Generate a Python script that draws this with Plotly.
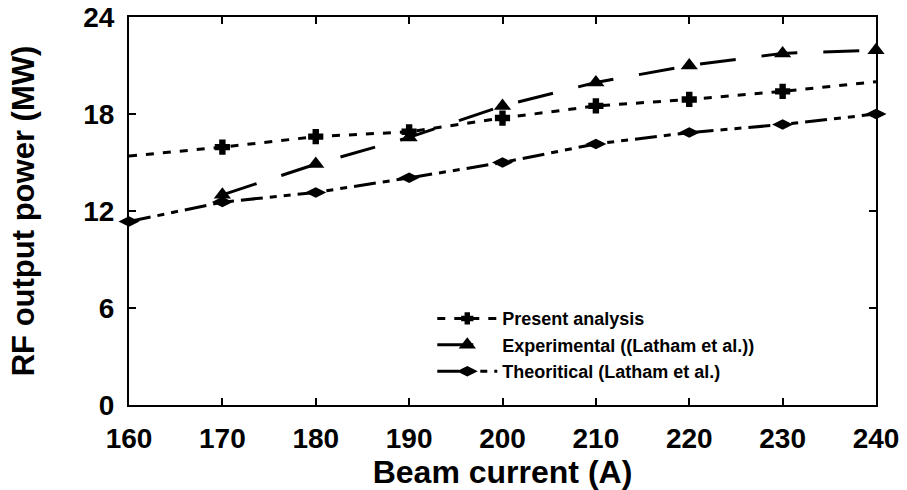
import plotly.graph_objects as go

beam_current = [160, 170, 180, 190, 200, 210, 220, 230, 240]
present_analysis = [15.4, 15.95, 16.6, 16.9, 17.75, 18.5, 18.9, 19.4, 20.0]
present_marker_size = [0, 11, 11, 11, 11, 11, 11, 11, 0]
experimental_x = [170, 180, 190, 200, 210, 220, 230, 240]
experimental = [13.0, 14.9, 16.55, 18.5, 19.95, 21.0, 21.75, 21.95]
theoretical = [11.35, 12.55, 13.15, 14.05, 15.0, 16.15, 16.85, 17.35, 18.0]

FONT = "Liberation Sans"

fig = go.Figure()
fig.add_trace(go.Scatter(
    x=beam_current, y=present_analysis, name="Present analysis",
    mode="lines+markers",
    line=dict(color="black", width=3, dash="8px,9px"),
    marker=dict(symbol="cross", size=present_marker_size, color="#000000",
                opacity=1, line=dict(color="#000000", width=2)),
    cliponaxis=False,
))
fig.add_trace(go.Scatter(
    x=experimental_x, y=experimental, name="Experimental ((Latham et al.))",
    mode="lines+markers",
    line=dict(color="black", width=3, dash="36px,26px"),
    marker=dict(symbol="triangle-up", size=15, color="black"),
    cliponaxis=False,
))
fig.add_trace(go.Scatter(
    x=beam_current, y=theoretical, name="Theoritical (Latham et al.)",
    mode="lines+markers",
    line=dict(color="black", width=3, dash="22px,7px,7px,7px,7px,7px"),
    marker=dict(symbol="diamond-wide", size=15, color="black"),
    cliponaxis=False,
))

axis_common = dict(
    showline=True, linecolor="black", linewidth=2, mirror="allticks",
    ticks="inside", ticklen=7, tickwidth=1.5, tickcolor="black",
    showgrid=False, zeroline=False, automargin=False,
    tickfont=dict(family=FONT, size=28, color="black", weight="bold"),
)

fig.update_layout(
    width=907, height=490,
    margin=dict(l=129, r=31, t=17, b=85),
    paper_bgcolor="white", plot_bgcolor="white",
    font=dict(family=FONT, color="black"),
    showlegend=True,
    legend=dict(
        x=0.406, y=0.27, xanchor="left", yanchor="top",
        bgcolor="rgba(0,0,0,0)",
        font=dict(family=FONT, size=18, color="black", weight="bold"),
        tracegroupgap=0, itemwidth=60,
    ),
    xaxis=dict(
        range=[160, 240], dtick=10, tick0=160, ticklabelstandoff=7,
        title=dict(text="Beam current (A)", standoff=3,
                   font=dict(family=FONT, size=32, color="black", weight="bold")),
        **axis_common,
    ),
    yaxis=dict(
        range=[0, 24], dtick=6, tick0=0, ticklabelstandoff=7,
        title=dict(text="RF output power (MW)", standoff=39,
                   font=dict(family=FONT, size=31, color="black", weight="bold")),
        **axis_common,
    ),
)

fig.write_html("out.html")
